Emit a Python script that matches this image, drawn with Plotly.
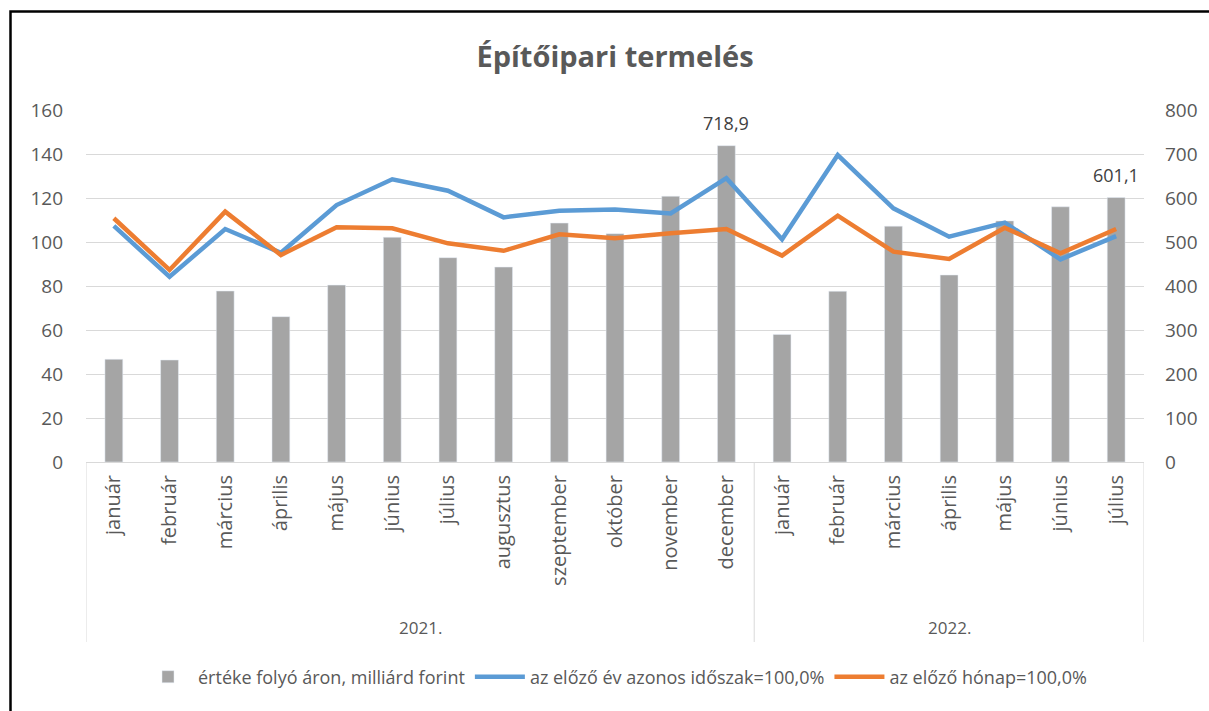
import plotly.graph_objects as go

months = ["január", "február", "március", "április", "május", "június", "július",
          "augusztus", "szeptember", "október", "november", "december",
          "január", "február", "március", "április", "május", "június", "július"]
years = ["2021.", "2022."]
year_counts = [12, 7]

value_bn = [233.4, 231.8, 388.6, 330.3, 402.0, 510.7, 464.4, 443.0, 543.0, 519.0,
            604.0, 718.9, 290.0, 388.0, 536.0, 425.0, 548.0, 580.0, 601.1]
yoy_index = [107.3, 84.2, 105.9, 95.1, 116.8, 128.5, 123.3, 111.2, 114.2, 114.8,
             113.0, 129.0, 101.2, 139.5, 115.3, 102.4, 108.8, 92.1, 102.7]
mom_index = [110.8, 87.3, 113.8, 94.1, 106.7, 106.2, 99.4, 96.0, 103.5, 101.7,
             104.0, 105.9, 93.8, 112.0, 95.6, 92.3, 106.5, 94.9, 105.9]
label_idx = [11, 18]

names = ["értéke folyó áron, milliárd forint",
         "az előző év azonos időszak=100,0%",
         "az előző hónap=100,0%"]

x = list(range(len(months)))

FONT = "Open Sans"
GRAY = "#595959"

fig = go.Figure()
fig.add_trace(go.Bar(x=x, y=value_bn, name=names[0], marker_color="#a5a5a5",
                     width=0.32, yaxis="y"))
fig.add_trace(go.Scatter(x=x, y=yoy_index, name=names[1], mode="lines",
                         line=dict(color="#5b9bd5", width=4.5), yaxis="y2"))
fig.add_trace(go.Scatter(x=x, y=mom_index, name=names[2], mode="lines",
                         line=dict(color="#ed7d31", width=4.5), yaxis="y2"))

L, R, T, B = 86, 65, 110, 249
W, H = 1209, 711
pw, ph = W - L - R, H - T - B

shapes = []
bounds = [-0.5]
for c in year_counts:
    bounds.append(bounds[-1] + c)
for b in bounds:
    shapes.append(dict(type="line", xref="x", yref="paper", x0=b, x1=b,
                       y0=0, y1=-(642 - 462) / ph, line=dict(color="#d9d9d9", width=1)))
shapes.append(dict(type="rect", xref="paper", yref="paper",
                   x0=(10.5 - L) / pw, x1=(1212 - L) / pw,
                   y0=-(720 - 462) / ph, y1=(462 - 11.5) / ph,
                   line=dict(color="black", width=2.5)))

annotations = []
start = 0
for yr, c in zip(years, year_counts):
    center = start + (c - 1) / 2
    annotations.append(dict(x=center, xref="x", y=-(627 - 462) / ph, yref="paper",
                            text=yr, showarrow=False, yanchor="middle",
                            font=dict(size=17, color=GRAY, family=FONT)))
    start += c
for i in label_idx:
    annotations.append(dict(x=x[i], xref="x", y=value_bn[i], yref="y",
                            text=f"{value_bn[i]:.1f}".replace(".", ","),
                            showarrow=False, yanchor="bottom", yshift=9,
                            font=dict(size=18, color="#404040", family=FONT)))

fig.update_layout(
    width=W, height=H,
    margin=dict(l=L, r=R, t=T, b=B),
    paper_bgcolor="white", plot_bgcolor="white",
    font=dict(family=FONT, color=GRAY),
    title=dict(text="<b>Építőipari termelés</b>", x=0.5, xref="paper",
               y=1 - 57 / H, yref="container", xanchor="center", yanchor="middle",
               font=dict(size=29, color=GRAY, family=FONT)),
    xaxis=dict(range=[-0.5, 18.5], tickvals=x, ticktext=months, tickangle=-90,
               tickfont=dict(size=20, color=GRAY, family=FONT),
               showgrid=False, zeroline=False, showline=True, linecolor="#d9d9d9",
               linewidth=1, ticks="", ticklabelstandoff=4),
    yaxis=dict(range=[0, 800], dtick=100, side="right", showgrid=True,
               gridcolor="#d9d9d9", gridwidth=1, zeroline=False, showline=False,
               tickfont=dict(size=19, color=GRAY, family=FONT), ticklabelstandoff=20),
    yaxis2=dict(range=[0, 160], dtick=20, side="left", overlaying="y",
                showgrid=False, zeroline=False, showline=False,
                tickfont=dict(size=19, color=GRAY, family=FONT), ticklabelstandoff=22),
    legend=dict(orientation="h", x=0.5, xanchor="center", xref="paper",
                y=1 - 677 / H, yref="container", yanchor="middle",
                font=dict(size=18, color=GRAY, family=FONT),
                itemwidth=50, traceorder="normal"),
    shapes=shapes, annotations=annotations,
)

fig.write_html("out.html", config={"displayModeBar": False},
               post_script="document.body.style.margin='0';document.body.style.overflow='hidden';")
